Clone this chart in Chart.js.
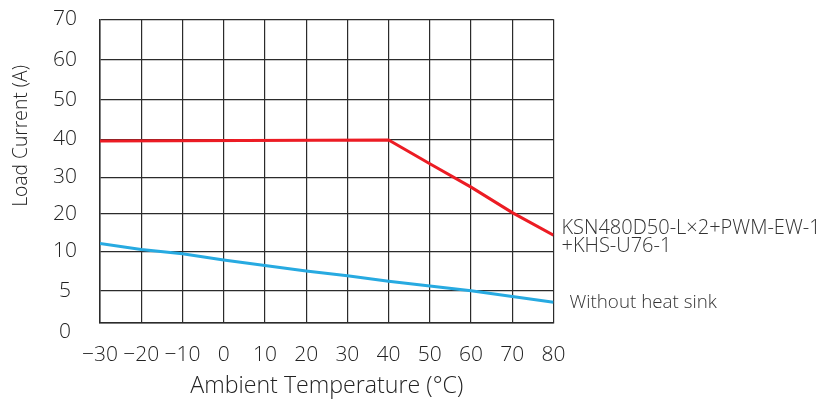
<!DOCTYPE html>
<html>
<head>
<meta charset="utf-8">
<script src="https://cdn.jsdelivr.net/npm/chart.js@4.4.1/dist/chart.umd.min.js"></script>
<style>
  html, body { margin: 0; padding: 0; background: #fff; }
</style>
</head>
<body>
<canvas id="chart" width="822" height="403"></canvas>
<script>
const temps = [-30, -20, -10, 0, 10, 20, 30, 40, 50, 60, 70, 80];
const xTickLabels = ['−30', '−20', '−10', '0', '10', '20', '30', '40', '50', '60', '70', '80'];

const yTickValues = [0, 5, 10, 20, 30, 40, 50, 60, 70];
const yTickLabels = ['0', '5', '10', '20', '30', '40', '50', '60', '70'];
// the source axis is uneven (0-5 and 5-10 take their own rows), so each tick
// gets its own spot on an internal linear scale
const yTickSpots = [0, 32, 71.4, 109, 145.4, 183.2, 223, 262.7, 303.4];

const heatSinkTemps = [-30, 40, 50, 60, 70, 80];
const heatSinkCurrent = [39.6, 39.9, 33.6, 27.3, 20.3, 14.3];
const bareCurrent = [12.1, 10.5, 9.7, 8.9, 8.2, 7.5, 6.9, 6.2, 5.6, 5.0, 4.1, 3.2];

const heatSinkLabel = ['KSN480D50-L×2+PWM-EW-1', '+KHS-U76-1'];
const bareLabel = 'Without heat sink';
const xTitle = 'Ambient Temperature (°C)';
const yTitle = 'Load Current (A)';

const FONT = "'Open Sans', 'Noto Sans', sans-serif";
const INK = '#222';
const GRID = '#2b2b2b';

function toSpot(v) {
    for (let i = 0; i < yTickValues.length - 1; i++) {
        const a = yTickValues[i], b = yTickValues[i + 1];
        if (v <= b) {
            return yTickSpots[i] + (v - a) / (b - a) * (yTickSpots[i + 1] - yTickSpots[i]);
        }
    }
    return yTickSpots[yTickSpots.length - 1];
}

function pairUp(xs, ys) {
    return xs.map(function (x, i) {
        return { x: x, y: toSpot(ys[i]) };
    });
}

const textPlugin = {
    id: 'texts',
    afterDraw(chart) {
        const ctx = chart.ctx;
        const xs = chart.scales.x;
        const ys = chart.scales.y;
        ctx.save();
        ctx.fillStyle = INK;

        // axis titles
        ctx.textAlign = 'center';
        ctx.textBaseline = 'middle';
        ctx.font = '300 23.2px ' + FONT;
        ctx.fillText(xTitle, (xs.left + xs.right) / 2, 386);
        ctx.save();
        ctx.translate(22, 136);
        ctx.rotate(-Math.PI / 2);
        ctx.font = '300 19.3px ' + FONT;
        ctx.fillText(yTitle, 0, 0);
        ctx.restore();

        // series labels at the right end of each line
        const endX = xs.getPixelForValue(temps[temps.length - 1]);
        const redY = ys.getPixelForValue(toSpot(heatSinkCurrent[heatSinkCurrent.length - 1]));
        const blueY = ys.getPixelForValue(toSpot(bareCurrent[bareCurrent.length - 1]));
        ctx.textAlign = 'left';
        ctx.fillStyle = '#333';
        ctx.font = '300 20px ' + FONT;
        ctx.fillText(heatSinkLabel[0], endX + 8, redY - 7);
        ctx.fillText(heatSinkLabel[1], endX + 8, redY + 11);
        ctx.font = '300 18.8px ' + FONT;
        ctx.fillText(bareLabel, endX + 16, blueY);
        ctx.restore();
    }
};

new Chart(document.getElementById('chart'), {
    type: 'line',
    data: {
        datasets: [
            {
                label: heatSinkLabel.join(''),
                data: pairUp(heatSinkTemps, heatSinkCurrent),
                borderColor: '#ec1c24',
                borderWidth: 3,
                pointRadius: 0,
                tension: 0,
            },
            {
                label: bareLabel,
                data: pairUp(temps, bareCurrent),
                borderColor: '#27aae1',
                borderWidth: 3,
                pointRadius: 0,
                tension: 0,
            },
        ],
    },
    options: {
        responsive: false,
        animation: false,
        devicePixelRatio: 1,
        layout: { padding: { left: 0, top: 19.3, right: 268.5, bottom: 0 } },
        plugins: {
            legend: { display: false },
            tooltip: { enabled: false },
        },
        scales: {
            x: {
                type: 'linear',
                min: -30,
                max: 80,
                afterBuildTicks: function (s) {
                    s.ticks = temps.map(function (t) { return { value: t }; });
                },
                afterFit: function (s) { s.height = 80.3; },
                grid: { color: GRID, lineWidth: 1.2, drawTicks: false },
                border: { color: GRID, width: 1.5 },
                ticks: {
                    padding: 20,
                    color: INK,
                    maxRotation: 0,
                    autoSkip: false,
                    font: { family: FONT, size: 21, weight: 300 },
                    callback: function (v, i) { return xTickLabels[i]; },
                },
            },
            y: {
                type: 'linear',
                min: 0,
                max: yTickSpots[yTickSpots.length - 1],
                afterBuildTicks: function (s) {
                    s.ticks = yTickSpots.map(function (v) { return { value: v }; });
                },
                afterFit: function (s) {
                    s.width = 100;
                    // tick padding is horizontal here; keep it out of the top/bottom room
                    s.paddingTop = 12;
                    s.paddingBottom = 12;
                },
                grid: { color: GRID, lineWidth: 1.2, drawTicks: false },
                border: { color: GRID, width: 1.5 },
                ticks: {
                    padding: 23,
                    crossAlign: 'center',
                    color: INK,
                    autoSkip: false,
                    font: function (c) {
                        return { family: FONT, size: 21, weight: 300, lineHeight: c.index === 0 ? 0.9 : 1.2 };
                    },
                    // the 0 label sits a little below the axis line in the source
                    callback: function (v, i) { return i === 0 ? ['', yTickLabels[i]] : yTickLabels[i]; },
                },
            },
        },
    },
    plugins: [textPlugin],
});
</script>
</body>
</html>
